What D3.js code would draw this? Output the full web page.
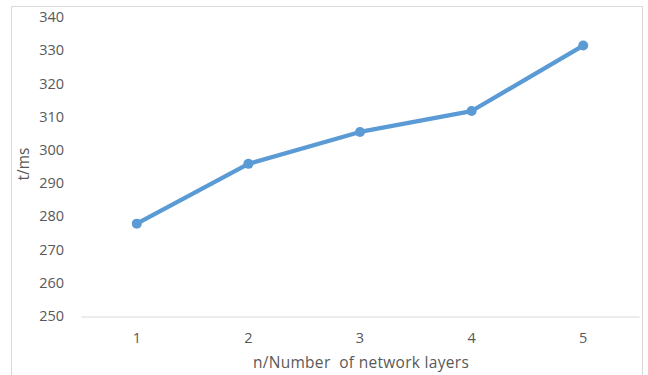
<!DOCTYPE html>
<html>
<head>
<meta charset="utf-8">
<script src="https://cdn.jsdelivr.net/npm/d3@7/dist/d3.min.js"></script>
<style>
  html, body { margin: 0; padding: 0; background: #fff; }
  svg { display: block; font-family: "Open Sans", "Noto Sans", sans-serif; }
</style>
</head>
<body>
<svg id="chart" width="648" height="375"></svg>
<script>
// Layer count vs. time per run
const layers = [1, 2, 3, 4, 5];
const timeMs = [277.8, 295.8, 305.4, 311.7, 331.4];
const yTicks = [250, 260, 270, 280, 290, 300, 310, 320, 330, 340];

const svg = d3.select("#chart");
const W = 648, H = 375;
const plot = { left: 81, right: 639, top: 17, bottom: 316 };

// outer chart frame
svg.append("rect")
  .attr("x", 11.5).attr("y", 6.5)
  .attr("width", 631).attr("height", H + 10)
  .attr("fill", "#fff").attr("stroke", "#d9d9d9").attr("stroke-width", 1);

const x = d3.scaleBand().domain(layers).range([plot.left, plot.right]);
const y = d3.scaleLinear().domain([250, 340]).range([plot.bottom, plot.top]);

// y tick labels (no axis line, no gridlines)
const yAxis = d3.axisLeft(y).tickValues(yTicks).tickSize(0).tickPadding(0);
const gy = svg.append("g").attr("transform", `translate(64,0)`).call(yAxis);
gy.select(".domain").remove();
gy.selectAll("text")
  .attr("fill", "#595959")
  .style("font-size", "14.5px")
  .style("font-family", "'Open Sans', sans-serif");

// x axis baseline + category labels
const xAxis = d3.axisBottom(x).tickSize(0).tickPadding(16);
const gx = svg.append("g").attr("transform", `translate(0,${plot.bottom + 0.5})`).call(xAxis);
gx.select(".domain").attr("stroke", "#d9d9d9").attr("stroke-width", 1);
gx.selectAll("text")
  .attr("fill", "#595959")
  .style("font-size", "14.5px")
  .style("font-family", "'Open Sans', sans-serif");

// axis titles
svg.append("text")
  .attr("x", 361).attr("y", 368)
  .attr("text-anchor", "middle")
  .attr("fill", "#595959")
  .style("font-size", "15.5px")
  .style("letter-spacing", "0.3px")
  .attr("xml:space", "preserve")
  .text("n/Number  of network layers");

svg.append("text")
  .attr("transform", "translate(29,164) rotate(-90)")
  .attr("text-anchor", "middle")
  .attr("fill", "#595959")
  .style("font-size", "15.5px")
  .text("t/ms");

// series line and markers
const cx = d => x(d) + x.bandwidth() / 2;
const line = d3.line()
  .x((d, i) => cx(layers[i]))
  .y(d => y(d));

svg.append("path")
  .datum(timeMs)
  .attr("d", line)
  .attr("fill", "none")
  .attr("stroke", "#5b9bd5")
  .attr("stroke-width", 4.3)
  .attr("stroke-linejoin", "round")
  .attr("stroke-linecap", "round");

svg.selectAll("circle.pt")
  .data(timeMs)
  .join("circle")
  .attr("class", "pt")
  .attr("cx", (d, i) => cx(layers[i]))
  .attr("cy", d => y(d))
  .attr("r", 5)
  .attr("fill", "#5b9bd5");
</script>
</body>
</html>
